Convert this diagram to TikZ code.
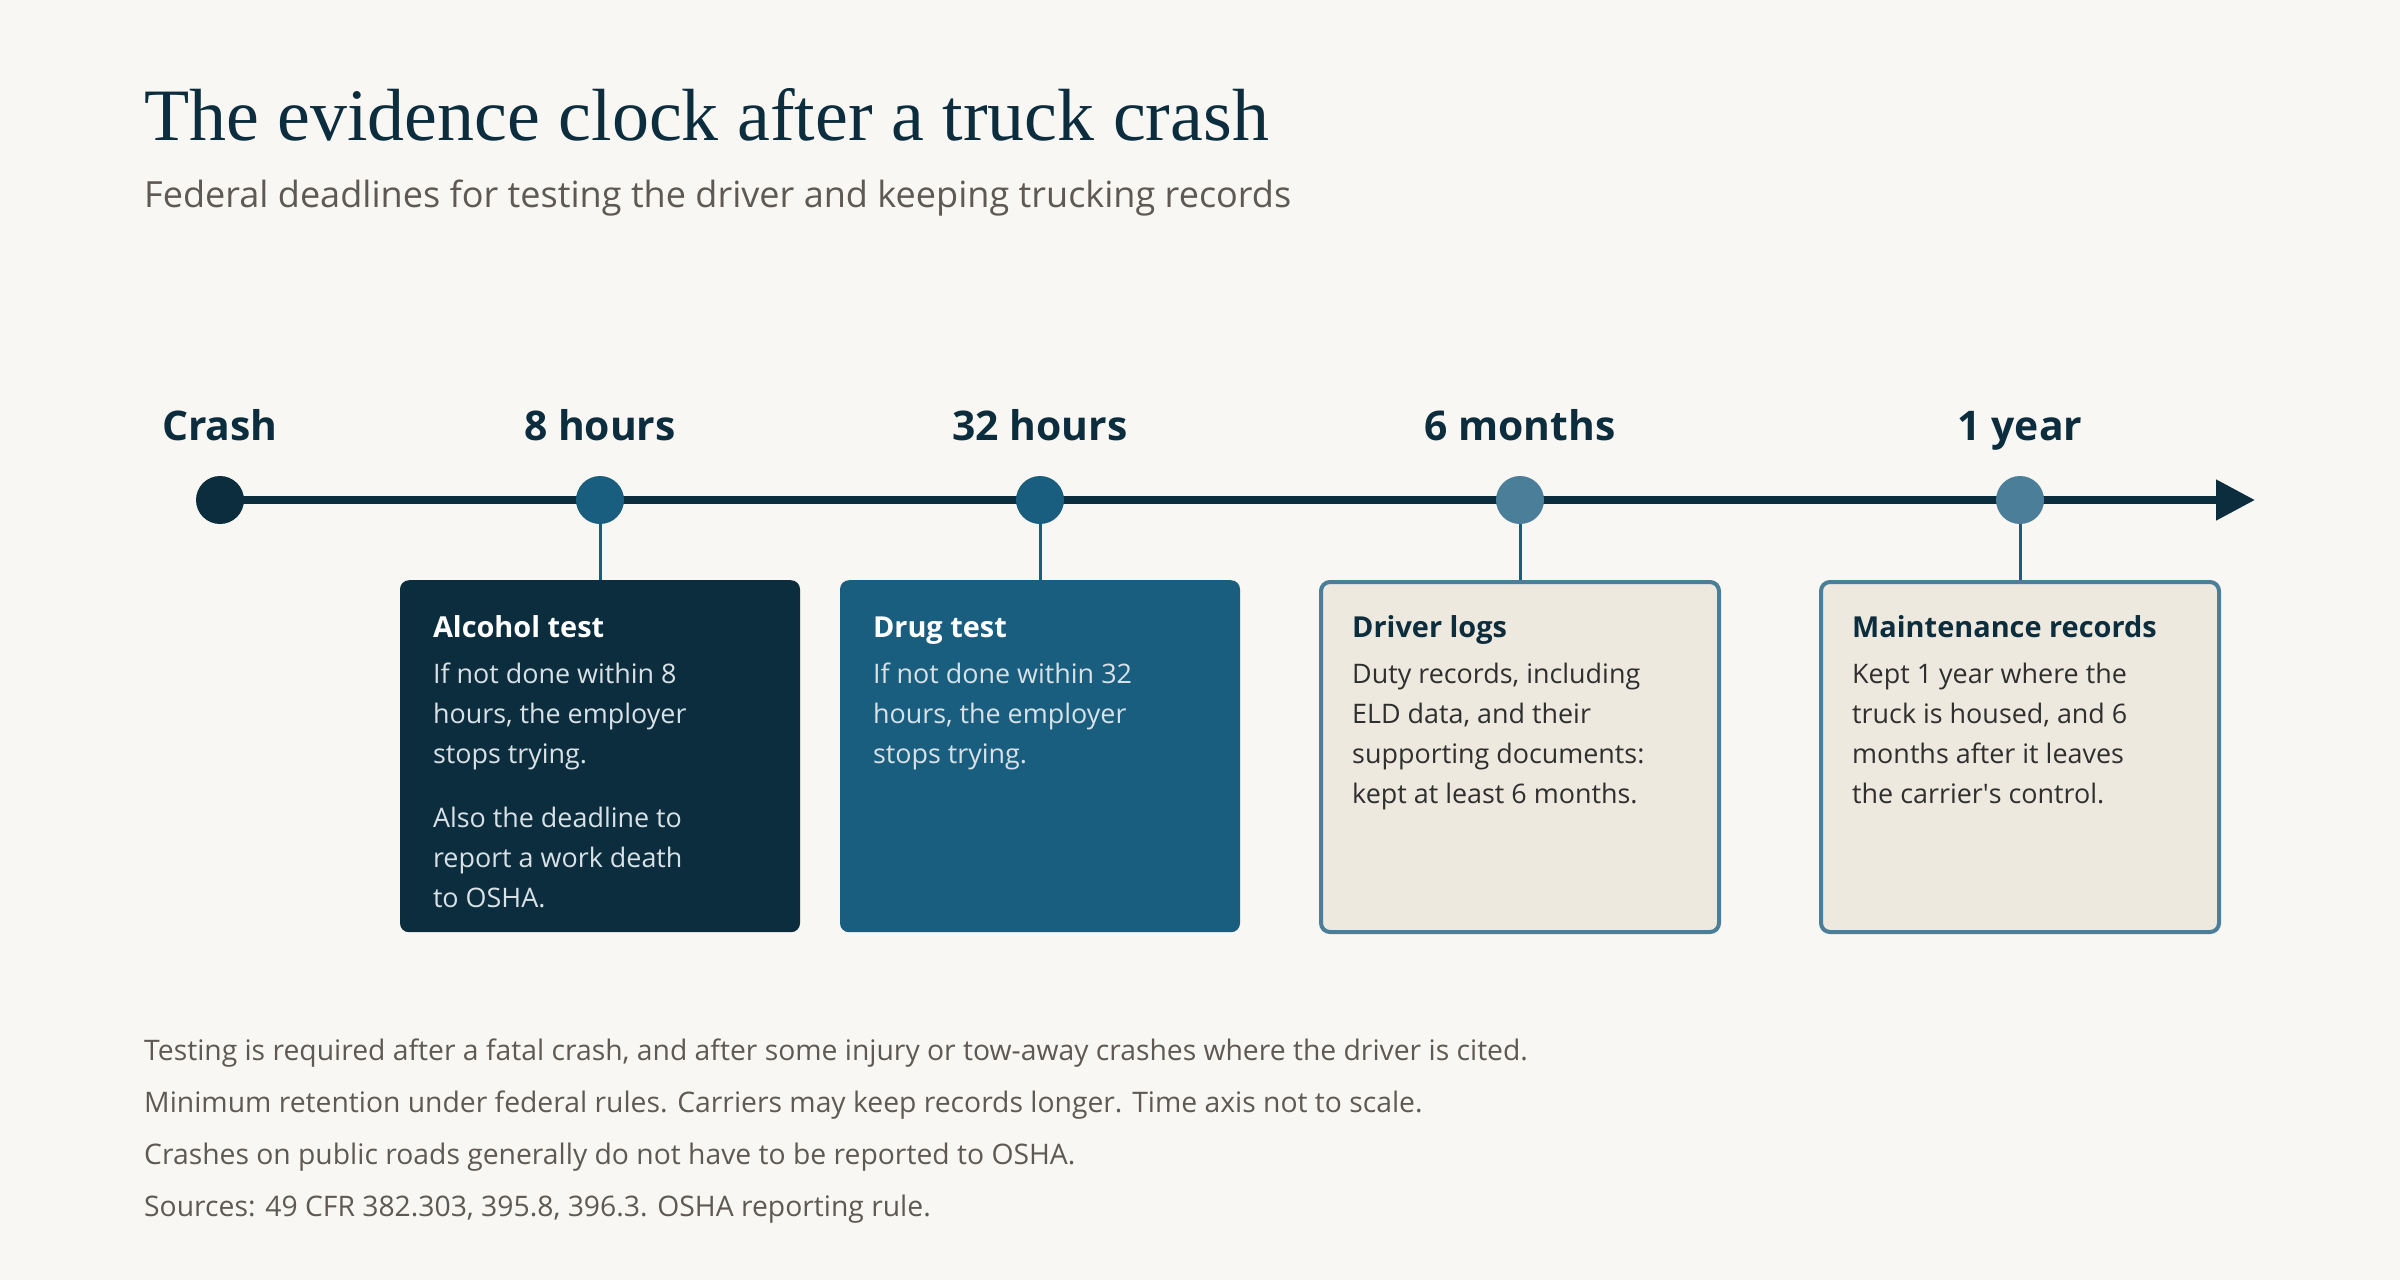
\documentclass[tikz,border=0pt]{standalone}
\usepackage{fontspec}
\setmainfont{Open Sans}
\newfontfamily\headfont{Liberation Serif}
\usetikzlibrary{positioning,arrows.meta,backgrounds}

\definecolor{paper}{HTML}{F8F7F3}
\definecolor{ink}{HTML}{0C2D3D}
\definecolor{steel}{HTML}{195E7E}
\definecolor{haze}{HTML}{4A7E99}
\definecolor{sand}{HTML}{EEE9DF}
\definecolor{mute}{HTML}{5E5954}
\definecolor{pale}{HTML}{D8E1E6}
\definecolor{dim}{HTML}{2F2F2F}

\tikzset{
  dot/.style={circle, inner sep=0pt, minimum size=48bp},
  when/.style={inner sep=0pt, anchor=base, text=ink, font=\fontsize{41}{41}\selectfont\bfseries},
  card/.style={rounded corners=9bp, anchor=north, minimum width=400bp, minimum height=352bp, inner sep=0pt},
  pale card/.style={card, fill=sand, draw=haze, line width=4bp, minimum width=398bp, minimum height=350bp},
  head/.style={inner sep=0pt, anchor=base west, font=\fontsize{29}{29}\selectfont\bfseries},
  blurb/.style={inner sep=0pt, anchor=base west, align=left, font=\fontsize{27}{40}\selectfont},
  stem/.style={draw=steel, line width=3bp},
  note/.style={inner sep=0pt, anchor=base west, align=left, text=mute, font=\fontsize{28.4}{52}\selectfont}
}

\begin{document}
\begin{tikzpicture}[x=1bp, y=-1bp]
 \useasboundingbox (0,0) rectangle (2400,1280);
 \node[inner sep=0pt, anchor=base west, text=ink, font=\headfont\fontsize{74.2}{74.2}\selectfont] (title) at (144,140) {The evidence clock after a truck crash};
 \node[inner sep=0pt, anchor=base west, text=mute, font=\fontsize{36.2}{36.2}\selectfont] (subtitle) at (144,207) {Federal deadlines for testing the driver and keeping trucking records};

 \node[dot, fill=ink] (crash) at (220,500) {};
 \node[dot, fill=steel] (eight) at (600,500) {};
 \node[dot, fill=steel] (thirtytwo) at (1040,500) {};
 \node[dot, fill=haze] (sixmonths) at (1520,500) {};
 \node[dot, fill=haze] (oneyear) at (2020,500) {};
 \coordinate (later) at (2255,500);

 \node[when] (crashlabel) at (220,440) {Crash};
 \node[when] (eightlabel) at (600,440) {8 hours};
 \node[when] (thirtytwolabel) at (1040,440) {32 hours};
 \node[when] (sixmonthslabel) at (1520,440) {6 months};
 \node[when] (oneyearlabel) at (2020,440) {1 year};

 \begin{scope}[on background layer]
  \fill[paper] (0,0) rectangle (2400,1280);
  \draw[ink, line width=8bp, -{Triangle[length=39bp, width=39bp]}] (crash.center) -- (later);
 \end{scope}

 \node[card, fill=ink] (alcohol) at (600,580) {};
 \node[card, fill=steel] (drug) at (1040,580) {};
 \node[pale card] (logs) at (1520,580) {};
 \node[pale card] (upkeep) at (2020,580) {};

 \draw[stem] (eight) -- (alcohol);
 \draw[stem] (thirtytwo) -- (drug);
 \draw[stem] (sixmonths) -- (logs);
 \draw[stem] (oneyear) -- (upkeep);

 \node[head, text=white] (alcoholhead) at ([xshift=33bp, yshift=-57bp]alcohol.north west) {Alcohol test};
 \node[blurb, text=pale] (alcoholtext) at ([xshift=33bp, yshift=-327bp]alcohol.north west) {If not done within 8\\hours, the employer\\stops trying.\\[24bp]Also the deadline to\\report a work death\\to OSHA.};
 \node[head, text=white] (drughead) at ([xshift=33bp, yshift=-57bp]drug.north west) {Drug test};
 \node[blurb, text=pale] (drugtext) at ([xshift=33bp, yshift=-183bp]drug.north west) {If not done within 32\\hours, the employer\\stops trying.};
 \node[head, text=ink] (logshead) at ([xshift=33bp, yshift=-57bp]logs.north west) {Driver logs};
 \node[blurb, text=dim] (logstext) at ([xshift=33bp, yshift=-223bp]logs.north west) {Duty records, including\\ELD data, and their\\supporting documents:\\kept at least 6 months.};
 \node[head, text=ink] (upkeephead) at ([xshift=33bp, yshift=-57bp]upkeep.north west) {Maintenance records};
 \node[blurb, text=dim] (upkeeptext) at ([xshift=33bp, yshift=-223bp]upkeep.north west) {Kept 1 year where the\\truck is housed, and 6\\months after it leaves\\the carrier\textquotesingle s control.};

 \node[note] (notes) at (144,1216) {Testing is required after a fatal crash, and after some injury or tow-away crashes where the driver is cited.\\Minimum retention under federal rules. Carriers may keep records longer. Time axis not to scale.\\Crashes on public roads generally do not have to be reported to OSHA.\\Sources: 49 CFR 382.303, 395.8, 396.3. OSHA reporting rule.};
\end{tikzpicture}
\end{document}
